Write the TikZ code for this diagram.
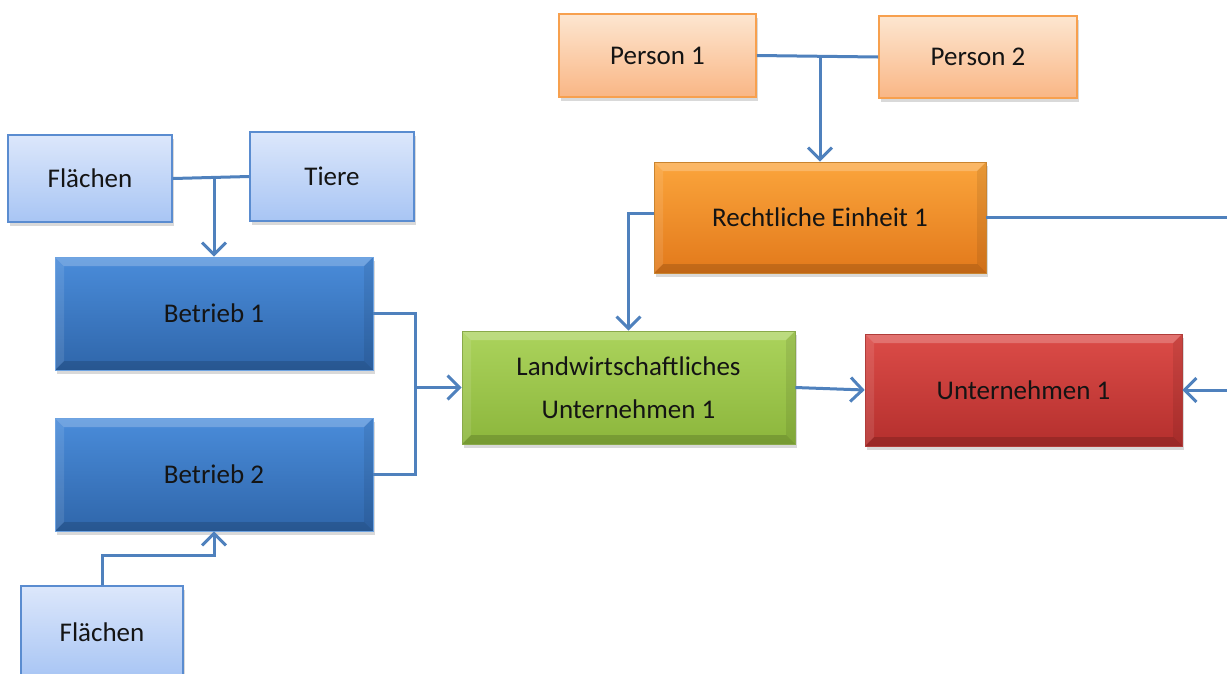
\documentclass[tikz,border=0pt]{standalone}
\usepackage{fontspec}
\setmainfont{Carlito}
\usetikzlibrary{arrows.meta,shadows,calc}
\definecolor{conn}{HTML}{4F81BD}
\definecolor{lbTop}{HTML}{DCE7FB}
\definecolor{lbBot}{HTML}{A8C5F4}
\definecolor{lbBorder}{HTML}{5A8CD0}
\definecolor{dbTop}{HTML}{4A8CDA}
\definecolor{dbBot}{HTML}{2F66AA}
\definecolor{loTop}{HTML}{FDE6D0}
\definecolor{loBot}{HTML}{F9B685}
\definecolor{loBorder}{HTML}{F7A04E}
\definecolor{orTop}{HTML}{FBA53C}
\definecolor{orBot}{HTML}{E2791B}
\definecolor{grTop}{HTML}{ABD35C}
\definecolor{grBot}{HTML}{8CB63C}
\definecolor{rdTop}{HTML}{DC4C48}
\definecolor{rdBot}{HTML}{B42F2D}
\tikzset{
  every node/.style={font=\fontsize{27}{33}\selectfont, text=black!92},
  shad/.style={drop shadow={shadow xshift=2pt, shadow yshift=-4pt, opacity=0.3}},
  lightbox/.style={shad, rectangle, draw=lbBorder, line width=1.8pt, top color=lbTop, bottom color=lbBot},
  lightorange/.style={shad, rectangle, draw=loBorder, line width=1.8pt, top color=loTop, bottom color=loBot},
  bevel/.style={shad, rectangle, line width=0.6pt,
    path picture={
      \fill[white,opacity=0.22] (path picture bounding box.north west) -- (path picture bounding box.north east)
        -- ([xshift=-9pt,yshift=-9pt]path picture bounding box.north east) -- ([xshift=9pt,yshift=-9pt]path picture bounding box.north west) -- cycle;
      \fill[black,opacity=0.15] (path picture bounding box.south west) -- (path picture bounding box.south east)
        -- ([xshift=-9pt,yshift=9pt]path picture bounding box.south east) -- ([xshift=9pt,yshift=9pt]path picture bounding box.south west) -- cycle;
      \fill[white,opacity=0.10] (path picture bounding box.north west) -- ([xshift=9pt,yshift=-9pt]path picture bounding box.north west)
        -- ([xshift=9pt,yshift=9pt]path picture bounding box.south west) -- (path picture bounding box.south west) -- cycle;
      \fill[black,opacity=0.08] (path picture bounding box.north east) -- ([xshift=-9pt,yshift=-9pt]path picture bounding box.north east)
        -- ([xshift=-9pt,yshift=9pt]path picture bounding box.south east) -- (path picture bounding box.south east) -- cycle;
    }},
  darkblue/.style={bevel, draw=dbTop!80!white, top color=dbTop, bottom color=dbBot},
  orangebox/.style={bevel, draw=orTop!80!black, top color=orTop, bottom color=orBot},
  greenbox/.style={bevel, draw=grTop!80!black, top color=grTop, bottom color=grBot},
  redbox/.style={bevel, draw=rdTop!80!black, top color=rdTop, bottom color=rdBot},
  conline/.style={draw=conn, line width=3pt},
  arr/.style={conline, -{Straight Barb[length=12pt,width=24pt,line width=3pt]}},
}
\begin{document}
\begin{tikzpicture}[x=1pt,y=-1pt]
\useasboundingbox (0,0) rectangle (1227,673);
\clip (0,0) rectangle (1227,673);
% nodes
\node[lightbox, minimum width=164pt, minimum height=87pt] (fl1) at (90,178.5) {Flächen};
\node[lightbox, minimum width=164pt, minimum height=89pt] (ti) at (332,176.5) {Tiere};
\node[darkblue, minimum width=318pt, minimum height=113pt] (b1) at (214,313.5) {Betrieb 1};
\node[darkblue, minimum width=318pt, minimum height=113pt] (b2) at (214,474.5) {Betrieb 2};
\node[lightbox, minimum width=162pt, minimum height=92pt] (fl2) at (102,632) {Flächen};
\node[lightorange, minimum width=197pt, minimum height=83pt] (p1) at (657.5,55.5) {Person 1};
\node[lightorange, minimum width=198pt, minimum height=82pt] (p2) at (978,57) {Person 2};
\node[orangebox, minimum width=332pt, minimum height=111pt] (re) at (820,217.5) {Rechtliche Einheit 1};
\node[greenbox, minimum width=333pt, minimum height=113pt, align=center] (la) at (628.5,387.5)
  {Landwirtschaftliches\\[10pt]Unternehmen 1};
\node[redbox, minimum width=317pt, minimum height=112pt] (un) at (1023.5,390) {Unternehmen 1};
% connectors
\coordinate (jn) at ([xshift=-46pt]la.west);
\draw[conline] (fl1.east) -- (ti.west);
\draw[arr] (b1.north |- fl1.east) -- (b1.north);
\draw[conline] (p1.east) -- (p2.west);
\draw[arr] (re.north |- p1.east) -- (re.north);
\draw[arr] ([yshift=4pt]re.west) -| (la.north);
\draw[arr] (re.east) -- ++(260,0) |- (un.east);
\draw[conline] (b1.east) -| (jn);
\draw[conline] (b2.east) -| (jn);
\draw[arr, line width=3.6pt] (jn) -- (la.west);
\draw[arr] (la.east) -- (un.west);
\draw[arr] (fl2.north) -- ++(0,-30) -| (b2.south);
\end{tikzpicture}
\end{document}
